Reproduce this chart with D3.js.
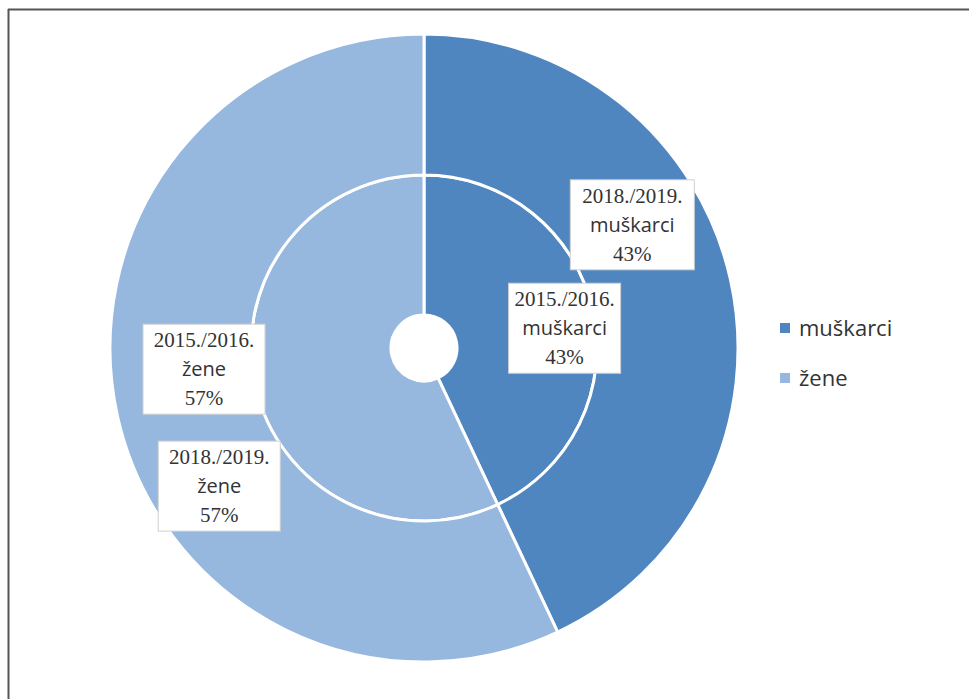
<!DOCTYPE html>
<html><head><meta charset="utf-8">
<script src="https://cdn.jsdelivr.net/npm/d3@7"></script>
<style>body{margin:0;background:#fff}svg{display:block}</style>
</head><body>
<svg id="c" width="969" height="699"></svg>
<script>
const categories = ["muškarci", "žene"];
const years = ["2015./2016.", "2018./2019."];
const values2015 = [43, 57];
const values2018 = [43, 57];
const colors = ["#4f86c0", "#96b7de"];
// label placement: [angle in degrees from top, radius in px, box width]
const labelLayout = {
  "2015./2016.": [[82, 142, 112], [264.5, 221, 122]],
  "2018./2019.": [[59.4, 242, 124], [236, 247, 122]]
};

const svg = d3.select("#c");
// frame (top and left edges visible)
svg.append("line").attr("x1", 8).attr("y1", 9.5).attr("x2", 969).attr("y2", 9.5).attr("stroke", "#555").attr("stroke-width", 2);
svg.append("line").attr("x1", 8.5).attr("y1", 9).attr("x2", 8.5).attr("y2", 699).attr("stroke", "#555").attr("stroke-width", 2);

const cx = 424, cy = 348;
const g = svg.append("g").attr("transform", `translate(${cx},${cy})`);
const pie = d3.pie().sort(null).value(d => d);
const rings = [
  {year: years[0], vals: values2015, r0: 33, r1: 173},
  {year: years[1], vals: values2018, r0: 173, r1: 314}
];
rings.forEach(ring => {
  const arc = d3.arc().innerRadius(ring.r0).outerRadius(ring.r1);
  g.selectAll(null).data(pie(ring.vals)).enter().append("path")
    .attr("d", arc).attr("fill", (d, i) => colors[i])
    .attr("stroke", "#fff").attr("stroke-width", 3).attr("stroke-linejoin", "round");
});

// labels
rings.forEach(ring => {
  pie(ring.vals).forEach((d, i) => {
    const [ang, r, w] = labelLayout[ring.year][i];
    const a = ang * Math.PI / 180;
    const x = r * Math.sin(a), y = -r * Math.cos(a);
    const lines = [ring.year, categories[i], d.data + "%"];
    const lg = g.append("g").attr("transform", `translate(${x},${y})`);
    const h = 90;
    lg.append("rect").attr("fill", "#fff").attr("stroke", "#d0d0d0").attr("stroke-width", 1)
      .attr("x", -w / 2).attr("y", -h / 2).attr("width", w).attr("height", h);
    const t = lg.append("text").attr("text-anchor", "middle").attr("fill", "#333");
    lines.forEach((l, k) => {
      t.append("tspan").attr("x", 0).attr("y", (k - 1) * 29 + 7).text(l)
        .style("font-family", k === 1 ? "'Open Sans', sans-serif" : "'Liberation Serif', serif")
        .style("font-size", k === 1 ? "20px" : "21px");
    });
  });
});

// legend
const leg = svg.append("g").attr("transform", "translate(780,328)");
categories.forEach((c, i) => {
  const row = leg.append("g").attr("transform", `translate(0,${i * 50})`);
  row.append("rect").attr("x", 0).attr("y", -5).attr("width", 10).attr("height", 10).attr("fill", colors[i]);
  row.append("text").attr("x", 19).attr("y", 8).text(c).attr("fill", "#333")
    .style("font-family", "'Open Sans', sans-serif").style("font-size", "22px");
});
</script>
</body></html>
